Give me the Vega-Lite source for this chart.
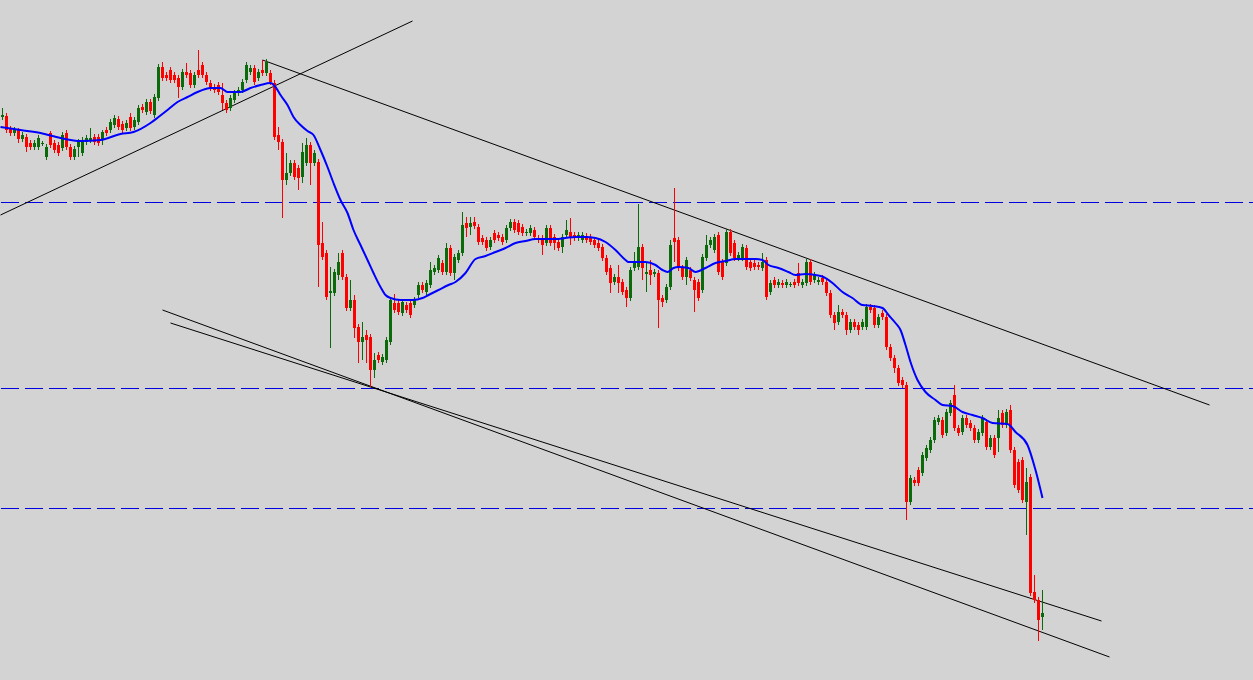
{
"$schema":"https://vega.github.io/schema/vega-lite/v6.json",
"width":1253,"height":680,"padding":0,"autosize":{"type":"none"},
"background":"#d3d3d3",
"config":{"view":{"stroke":null},"scale":{"continuousPadding":0}},
"datasets":{
"levels":[{"p":477.5},{"p":291.5},{"p":171.5}],
"trend":[{"i1":-0.5,"p1":465,"i2":102.5,"p2":659},{"i1":65,"p1":620,"i2":301.75,"p2":275},{"i1":40,"p1":370,"i2":276.75,"p2":23},{"i1":42,"p1":357,"i2":274.75,"p2":59}],
"candles":[
{"i":0,"o":563,"h":572,"l":560,"c":565},{"i":1,"o":564,"h":567,"l":547,"c":550},{"i":2,"o":551,"h":554,"l":544,"c":547},{"i":3,"o":547,"h":553,"l":544,"c":550},{"i":4,"o":550,"h":552,"l":537,"c":541},{"i":5,"o":541,"h":548,"l":538,"c":545},{"i":6,"o":543,"h":546,"l":528,"c":533},{"i":7,"o":537,"h":540,"l":530,"c":533},{"i":8,"o":533,"h":540,"l":530,"c":537},{"i":9,"o":533,"h":545,"l":530,"c":542},
{"i":10,"o":536,"h":539,"l":534,"c":537},{"i":11,"o":523,"h":536,"l":520,"c":533},{"i":12,"o":547,"h":549,"l":532,"c":535},{"i":13,"o":537,"h":540,"l":527,"c":530},{"i":14,"o":535,"h":538,"l":524,"c":527},{"i":15,"o":532,"h":548,"l":529,"c":545},{"i":16,"o":547,"h":550,"l":530,"c":533},{"i":17,"o":533,"h":536,"l":520,"c":523},{"i":18,"o":523,"h":534,"l":520,"c":531},{"i":19,"o":533,"h":541,"l":523,"c":538},
{"i":20,"o":527,"h":543,"l":524,"c":540},{"i":21,"o":538,"h":545,"l":535,"c":542},{"i":22,"o":540,"h":552,"l":537,"c":542},{"i":23,"o":543,"h":546,"l":535,"c":538},{"i":24,"o":543,"h":546,"l":534,"c":537},{"i":25,"o":540,"h":550,"l":535,"c":548},{"i":26,"o":550,"h":553,"l":544,"c":547},{"i":27,"o":550,"h":561,"l":547,"c":558},{"i":28,"o":555,"h":565,"l":552,"c":562},{"i":29,"o":561,"h":564,"l":550,"c":553},
{"i":30,"o":556,"h":559,"l":547,"c":550},{"i":31,"o":552,"h":560,"l":549,"c":557},{"i":32,"o":563,"h":567,"l":549,"c":552},{"i":33,"o":553,"h":563,"l":550,"c":560},{"i":34,"o":558,"h":575,"l":555,"c":572},{"i":35,"o":573,"h":576,"l":567,"c":570},{"i":36,"o":568,"h":581,"l":565,"c":578},{"i":37,"o":578,"h":581,"l":566,"c":569},{"i":38,"o":565,"h":586,"l":562,"c":583},{"i":39,"o":582,"h":616,"l":579,"c":613},
{"i":40,"o":613,"h":618,"l":599,"c":602},{"i":41,"o":605,"h":608,"l":599,"c":602},{"i":42,"o":610,"h":613,"l":597,"c":600},{"i":43,"o":605,"h":608,"l":597,"c":600},{"i":44,"o":602,"h":605,"l":582,"c":593},{"i":45,"o":593,"h":611,"l":590,"c":608},{"i":46,"o":608,"h":617,"l":602,"c":605},{"i":47,"o":607,"h":610,"l":592,"c":595},{"i":48,"o":595,"h":608,"l":592,"c":605},{"i":49,"o":610,"h":630,"l":602,"c":605},
{"i":50,"o":615,"h":618,"l":602,"c":605},{"i":51,"o":605,"h":608,"l":595,"c":598},{"i":52,"o":597,"h":600,"l":589,"c":592},{"i":53,"o":593,"h":596,"l":587,"c":590},{"i":54,"o":595,"h":598,"l":585,"c":588},{"i":55,"o":585,"h":597,"l":570,"c":577},{"i":56,"o":577,"h":580,"l":567,"c":570},{"i":57,"o":572,"h":585,"l":569,"c":582},{"i":58,"o":580,"h":590,"l":577,"c":587},{"i":59,"o":587,"h":593,"l":584,"c":590},
{"i":60,"o":590,"h":601,"l":587,"c":598},{"i":61,"o":600,"h":618,"l":597,"c":615},{"i":62,"o":608,"h":615,"l":605,"c":612},{"i":63,"o":612,"h":615,"l":595,"c":598},{"i":64,"o":602,"h":611,"l":599,"c":608},{"i":65,"o":610,"h":620,"l":604,"c":607},{"i":66,"o":607,"h":621,"l":604,"c":618},{"i":67,"o":607,"h":610,"l":595,"c":598},{"i":68,"o":597,"h":600,"l":540,"c":543},{"i":69,"o":545,"h":553,"l":530,"c":538},
{"i":70,"o":538,"h":541,"l":462,"c":500},{"i":71,"o":500,"h":527,"l":495,"c":507},{"i":72,"o":507,"h":520,"l":504,"c":517},{"i":73,"o":517,"h":520,"l":500,"c":503},{"i":74,"o":512,"h":515,"l":490,"c":502},{"i":75,"o":503,"h":537,"l":497,"c":528},{"i":76,"o":517,"h":542,"l":514,"c":535},{"i":77,"o":535,"h":538,"l":495,"c":517},{"i":78,"o":517,"h":530,"l":514,"c":527},{"i":79,"o":518,"h":521,"l":393,"c":435},
{"i":80,"o":437,"h":458,"l":420,"c":423},{"i":81,"o":427,"h":430,"l":380,"c":383},{"i":82,"o":387,"h":413,"l":332,"c":389},{"i":83,"o":387,"h":411,"l":384,"c":408},{"i":84,"o":405,"h":427,"l":400,"c":418},{"i":85,"o":427,"h":430,"l":400,"c":403},{"i":86,"o":403,"h":406,"l":369,"c":372},{"i":87,"o":372,"h":400,"l":369,"c":380},{"i":88,"o":380,"h":385,"l":342,"c":352},{"i":89,"o":353,"h":356,"l":317,"c":338},
{"i":90,"o":338,"h":358,"l":320,"c":343},{"i":91,"o":345,"h":350,"l":317,"c":340},{"i":92,"o":343,"h":346,"l":293,"c":310},{"i":93,"o":310,"h":327,"l":302,"c":320},{"i":94,"o":325,"h":328,"l":317,"c":320},{"i":95,"o":318,"h":326,"l":315,"c":323},{"i":96,"o":320,"h":343,"l":317,"c":340},{"i":97,"o":338,"h":383,"l":335,"c":380},{"i":98,"o":377,"h":386,"l":367,"c":370},{"i":99,"o":377,"h":380,"l":365,"c":368},
{"i":100,"o":367,"h":381,"l":364,"c":378},{"i":101,"o":375,"h":378,"l":367,"c":370},{"i":102,"o":377,"h":380,"l":362,"c":365},{"i":103,"o":375,"h":383,"l":372,"c":380},{"i":104,"o":385,"h":398,"l":382,"c":395},{"i":105,"o":395,"h":398,"l":387,"c":390},{"i":106,"o":388,"h":400,"l":385,"c":397},{"i":107,"o":395,"h":418,"l":392,"c":410},{"i":108,"o":408,"h":415,"l":405,"c":412},{"i":109,"o":410,"h":425,"l":407,"c":422},
{"i":110,"o":417,"h":420,"l":405,"c":408},{"i":111,"o":408,"h":437,"l":405,"c":432},{"i":112,"o":432,"h":435,"l":404,"c":407},{"i":113,"o":407,"h":426,"l":400,"c":423},{"i":114,"o":420,"h":430,"l":417,"c":427},{"i":115,"o":427,"h":468,"l":424,"c":455},{"i":116,"o":457,"h":463,"l":443,"c":452},{"i":117,"o":453,"h":463,"l":445,"c":457},{"i":118,"o":458,"h":463,"l":451,"c":454},{"i":119,"o":453,"h":456,"l":435,"c":438},
{"i":120,"o":442,"h":445,"l":435,"c":438},{"i":121,"o":440,"h":443,"l":429,"c":432},{"i":122,"o":433,"h":443,"l":430,"c":440},{"i":123,"o":447,"h":450,"l":437,"c":440},{"i":124,"o":445,"h":448,"l":439,"c":442},{"i":125,"o":443,"h":446,"l":435,"c":438},{"i":126,"o":440,"h":455,"l":437,"c":452},{"i":127,"o":452,"h":461,"l":449,"c":458},{"i":128,"o":458,"h":461,"l":447,"c":450},{"i":129,"o":457,"h":460,"l":445,"c":448},
{"i":130,"o":453,"h":456,"l":444,"c":447},{"i":131,"o":447,"h":451,"l":444,"c":448},{"i":132,"o":447,"h":455,"l":444,"c":452},{"i":133,"o":450,"h":453,"l":440,"c":443},{"i":134,"o":442,"h":445,"l":437,"c":440},{"i":135,"o":442,"h":445,"l":425,"c":435},{"i":136,"o":437,"h":455,"l":434,"c":452},{"i":137,"o":452,"h":455,"l":434,"c":437},{"i":138,"o":443,"h":446,"l":430,"c":437},{"i":139,"o":438,"h":441,"l":429,"c":432},
{"i":140,"o":433,"h":446,"l":427,"c":443},{"i":141,"o":445,"h":460,"l":442,"c":450},{"i":142,"o":448,"h":462,"l":435,"c":443},{"i":143,"o":445,"h":448,"l":439,"c":442},{"i":144,"o":442,"h":448,"l":439,"c":445},{"i":145,"o":440,"h":448,"l":437,"c":445},{"i":146,"o":444,"h":447,"l":437,"c":440},{"i":147,"o":443,"h":446,"l":435,"c":438},{"i":148,"o":440,"h":443,"l":432,"c":435},{"i":149,"o":437,"h":440,"l":429,"c":432},
{"i":150,"o":433,"h":436,"l":419,"c":422},{"i":151,"o":422,"h":425,"l":405,"c":408},{"i":152,"o":412,"h":415,"l":387,"c":397},{"i":153,"o":398,"h":406,"l":395,"c":403},{"i":154,"o":403,"h":415,"l":387,"c":397},{"i":155,"o":398,"h":401,"l":385,"c":388},{"i":156,"o":390,"h":393,"l":373,"c":382},{"i":157,"o":382,"h":413,"l":379,"c":410},{"i":158,"o":412,"h":428,"l":409,"c":418},{"i":159,"o":413,"h":476,"l":410,"c":433},
{"i":160,"o":433,"h":436,"l":400,"c":412},{"i":161,"o":406,"h":418,"l":388,"c":408},{"i":162,"o":410,"h":420,"l":395,"c":405},{"i":163,"o":406,"h":411,"l":403,"c":408},{"i":164,"o":407,"h":410,"l":352,"c":380},{"i":165,"o":382,"h":385,"l":373,"c":378},{"i":166,"o":380,"h":396,"l":377,"c":393},{"i":167,"o":393,"h":440,"l":390,"c":435},{"i":168,"o":442,"h":492,"l":418,"c":438},{"i":169,"o":440,"h":443,"l":409,"c":412},
{"i":170,"o":412,"h":415,"l":400,"c":403},{"i":171,"o":403,"h":423,"l":395,"c":420},{"i":172,"o":410,"h":413,"l":399,"c":402},{"i":173,"o":400,"h":403,"l":368,"c":390},{"i":174,"o":398,"h":401,"l":379,"c":382},{"i":175,"o":390,"h":426,"l":387,"c":423},{"i":176,"o":422,"h":445,"l":419,"c":435},{"i":177,"o":435,"h":443,"l":432,"c":440},{"i":178,"o":430,"h":446,"l":427,"c":443},{"i":179,"o":445,"h":448,"l":405,"c":408},
{"i":180,"o":418,"h":421,"l":400,"c":403},{"i":181,"o":417,"h":451,"l":414,"c":448},{"i":182,"o":448,"h":451,"l":424,"c":427},{"i":183,"o":437,"h":440,"l":419,"c":422},{"i":184,"o":422,"h":428,"l":419,"c":425},{"i":185,"o":422,"h":436,"l":419,"c":433},{"i":186,"o":432,"h":435,"l":410,"c":413},{"i":187,"o":418,"h":421,"l":409,"c":412},{"i":188,"o":417,"h":420,"l":410,"c":413},{"i":189,"o":415,"h":418,"l":410,"c":413},
{"i":190,"o":412,"h":427,"l":409,"c":418},{"i":191,"o":420,"h":423,"l":380,"c":383},{"i":192,"o":388,"h":400,"l":385,"c":397},{"i":193,"o":400,"h":403,"l":392,"c":395},{"i":194,"o":395,"h":401,"l":392,"c":398},{"i":195,"o":397,"h":400,"l":392,"c":395},{"i":196,"o":395,"h":401,"l":392,"c":398},{"i":197,"o":395,"h":398,"l":393,"c":396},{"i":198,"o":398,"h":401,"l":392,"c":395},{"i":199,"o":407,"h":417,"l":394,"c":397},
{"i":200,"o":395,"h":401,"l":392,"c":398},{"i":201,"o":397,"h":421,"l":394,"c":418},{"i":202,"o":418,"h":421,"l":395,"c":398},{"i":203,"o":400,"h":408,"l":397,"c":405},{"i":204,"o":398,"h":403,"l":395,"c":400},{"i":205,"o":402,"h":405,"l":395,"c":398},{"i":206,"o":398,"h":401,"l":384,"c":387},{"i":207,"o":387,"h":390,"l":362,"c":365},{"i":208,"o":365,"h":368,"l":350,"c":357},{"i":209,"o":358,"h":375,"l":355,"c":368},
{"i":210,"o":368,"h":371,"l":362,"c":365},{"i":211,"o":365,"h":368,"l":345,"c":350},{"i":212,"o":350,"h":361,"l":347,"c":358},{"i":213,"o":358,"h":361,"l":350,"c":353},{"i":214,"o":355,"h":358,"l":345,"c":350},{"i":215,"o":353,"h":361,"l":350,"c":358},{"i":216,"o":353,"h":376,"l":350,"c":373},{"i":217,"o":373,"h":376,"l":367,"c":370},{"i":218,"o":372,"h":375,"l":352,"c":355},{"i":219,"o":355,"h":366,"l":352,"c":363},
{"i":220,"o":367,"h":370,"l":360,"c":363},{"i":221,"o":363,"h":366,"l":330,"c":333},{"i":222,"o":333,"h":336,"l":319,"c":322},{"i":223,"o":322,"h":325,"l":307,"c":312},{"i":224,"o":312,"h":315,"l":294,"c":297},{"i":225,"o":300,"h":303,"l":292,"c":295},{"i":226,"o":295,"h":298,"l":160,"c":178},{"i":227,"o":178,"h":205,"l":175,"c":202},{"i":228,"o":200,"h":203,"l":194,"c":197},{"i":229,"o":210,"h":213,"l":194,"c":197},
{"i":230,"o":207,"h":228,"l":204,"c":225},{"i":231,"o":222,"h":235,"l":219,"c":232},{"i":232,"o":230,"h":243,"l":227,"c":240},{"i":233,"o":240,"h":263,"l":237,"c":260},{"i":234,"o":258,"h":265,"l":255,"c":262},{"i":235,"o":260,"h":263,"l":242,"c":245},{"i":236,"o":247,"h":271,"l":244,"c":268},{"i":237,"o":267,"h":280,"l":264,"c":277},{"i":238,"o":285,"h":295,"l":249,"c":252},{"i":239,"o":252,"h":255,"l":244,"c":247},
{"i":240,"o":248,"h":265,"l":245,"c":262},{"i":241,"o":262,"h":265,"l":252,"c":255},{"i":242,"o":257,"h":260,"l":249,"c":252},{"i":243,"o":252,"h":255,"l":237,"c":240},{"i":244,"o":240,"h":251,"l":237,"c":248},{"i":245,"o":247,"h":265,"l":244,"c":262},{"i":246,"o":258,"h":261,"l":230,"c":233},{"i":247,"o":233,"h":245,"l":230,"c":242},{"i":248,"o":242,"h":245,"l":222,"c":225},{"i":249,"o":242,"h":270,"l":228,"c":262},
{"i":250,"o":267,"h":270,"l":252,"c":255},{"i":251,"o":255,"h":271,"l":252,"c":268},{"i":252,"o":270,"h":275,"l":227,"c":230},{"i":253,"o":230,"h":233,"l":192,"c":195},{"i":254,"o":218,"h":221,"l":187,"c":190},{"i":255,"o":220,"h":223,"l":177,"c":180},{"i":256,"o":178,"h":212,"l":145,"c":198},{"i":257,"o":203,"h":206,"l":84,"c":87},{"i":258,"o":88,"h":105,"l":77,"c":80},{"i":259,"o":80,"h":83,"l":39,"c":60},
{"i":260,"o":63,"h":90,"l":50,"c":67}
],
"ma":[
{"i":-0.5,"p":553},{"i":4.5,"p":550},{"i":9.5,"p":547},{"i":14.5,"p":542},{"i":19.5,"p":539},{"i":24.5,"p":540},{"i":29.5,"p":546},{"i":32.75,"p":548},{"i":37,"p":557},{"i":39,"p":563},{"i":41.25,"p":570},{"i":43.75,"p":578},{"i":46.25,"p":583},{"i":48.75,"p":588},{"i":50.75,"p":591},{"i":52,"p":592},{"i":54.5,"p":592},{"i":56.25,"p":588},{"i":59.5,"p":588},{"i":62,"p":592},{"i":64.5,"p":595},{"i":67,"p":597},{"i":68.25,"p":593},{"i":69.5,"p":585},{"i":71.25,"p":575},{"i":72.75,"p":563},{"i":74.5,"p":555},{"i":76.25,"p":549},{"i":77.75,"p":545},{"i":79.5,"p":530},{"i":81.25,"p":513},{"i":82.75,"p":497},{"i":84.5,"p":480},{"i":86.25,"p":467},{"i":87.75,"p":450},{"i":89.5,"p":435},{"i":91.25,"p":420},{"i":92.75,"p":407},{"i":94.5,"p":393},{"i":95.75,"p":385},{"i":97,"p":382},{"i":99.5,"p":380},{"i":102.5,"p":380},{"i":105,"p":382},{"i":106.5,"p":385},{"i":109,"p":390},{"i":111.5,"p":395},{"i":113.25,"p":398},{"i":115.75,"p":407},{"i":118.25,"p":421},{"i":120.75,"p":424},{"i":123.25,"p":428},{"i":125.75,"p":432},{"i":128.25,"p":437},{"i":130.75,"p":439},{"i":133.25,"p":441},{"i":138.25,"p":441},{"i":140.75,"p":442},{"i":143.25,"p":443},{"i":145.75,"p":443},{"i":148.25,"p":442},{"i":150.75,"p":438},{"i":153.25,"p":430},{"i":155.75,"p":420},{"i":156.5,"p":418},{"i":160.75,"p":418},{"i":163.25,"p":415},{"i":165,"p":410},{"i":166.25,"p":408},{"i":167.75,"p":412},{"i":169,"p":413},{"i":171.5,"p":412},{"i":173.25,"p":408},{"i":175.75,"p":412},{"i":178.25,"p":417},{"i":180.75,"p":419},{"i":183.25,"p":421},{"i":188.25,"p":421},{"i":190,"p":420},{"i":191.5,"p":415},{"i":194,"p":412},{"i":196.5,"p":408},{"i":198.25,"p":405},{"i":200.75,"p":406},{"i":203.25,"p":405},{"i":205.25,"p":403},{"i":207.5,"p":397},{"i":210,"p":388},{"i":212.5,"p":382},{"i":215,"p":375},{"i":217.5,"p":374},{"i":220,"p":372},{"i":221.5,"p":365},{"i":223.25,"p":357},{"i":224.5,"p":350},{"i":225.75,"p":335},{"i":227,"p":318},{"i":228.75,"p":300},{"i":230.75,"p":288},{"i":233.25,"p":280},{"i":235,"p":275},{"i":237.5,"p":274},{"i":240,"p":268},{"i":242.5,"p":265},{"i":245,"p":262},{"i":247.5,"p":257},{"i":251.25,"p":256},{"i":253.25,"p":248},{"i":256.25,"p":235},{"i":258.25,"p":210},{"i":260,"p":182}
]
},
"layer":[
{"data":{"name":"levels"},"mark":{"type":"rule","color":"#0000e0","strokeWidth":1,"strokeDash":[18,6],"strokeDashOffset":14},
 "encoding":{"y":{"field":"p","type":"quantitative","scale":{"domain":[0,680],"nice":false,"zero":false},"axis":null}}},
{"data":{"name":"trend"},"mark":{"type":"rule","color":"#000000","strokeWidth":1},
 "encoding":{"x":{"field":"i1","type":"quantitative","scale":{"domain":[-0.625,312.625],"nice":false,"zero":false,"padding":0},"axis":null},"x2":{"field":"i2"},
 "y":{"field":"p1","type":"quantitative","scale":{"domain":[0,680],"nice":false,"zero":false},"axis":null},"y2":{"field":"p2"}}},
{"data":{"name":"candles"},"mark":{"type":"rule","strokeWidth":1},
 "encoding":{"x":{"field":"i","type":"quantitative","scale":{"domain":[-0.625,312.625],"nice":false,"zero":false,"padding":0},"axis":null},
 "y":{"field":"l","type":"quantitative","scale":{"domain":[0,680],"nice":false,"zero":false},"axis":null},"y2":{"field":"h"},
 "color":{"condition":{"test":"datum.c >= datum.o","value":"#0b6b0b"},"value":"#ff0000"}}},
{"data":{"name":"candles"},"mark":{"type":"bar","size":3},
 "encoding":{"x":{"field":"i","type":"quantitative","scale":{"domain":[-0.625,312.625],"nice":false,"zero":false,"padding":0},"axis":null},
 "y":{"field":"o","type":"quantitative","scale":{"domain":[0,680],"nice":false,"zero":false},"axis":null},"y2":{"field":"c"},
 "color":{"condition":{"test":"datum.c >= datum.o","value":"#0b6b0b"},"value":"#ff0000"}}},
{"data":{"name":"ma"},"mark":{"type":"line","color":"#0000ff","strokeWidth":2,"interpolate":"monotone"},
 "encoding":{"x":{"field":"i","type":"quantitative","scale":{"domain":[-0.625,312.625],"nice":false,"zero":false,"padding":0},"axis":null},
 "y":{"field":"p","type":"quantitative","scale":{"domain":[0,680],"nice":false,"zero":false},"axis":null}}}
]
}
